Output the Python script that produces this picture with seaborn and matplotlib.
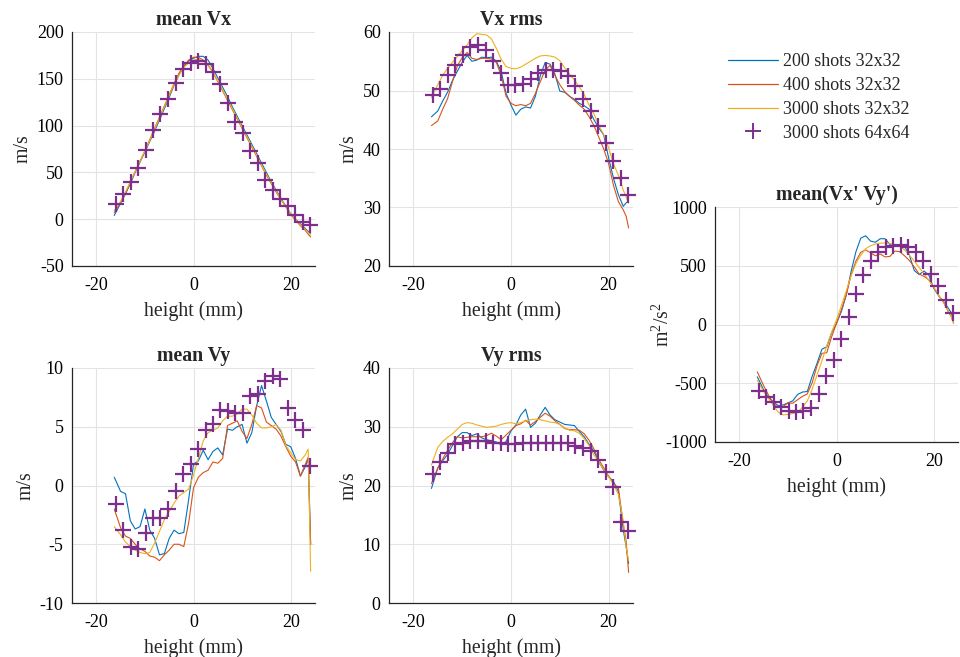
import numpy as np
import pandas as pd
import matplotlib
matplotlib.use("Agg")
import matplotlib.pyplot as plt
from matplotlib.lines import Line2D
import seaborn as sns

# ---------------- data ----------------
xl = [-16.3, -15, -14, -13, -12, -11, -10, -9, -8, -7, -6, -5, -4, -3, -2, -1, 0,
      1, 2, 3, 4, 5, 6, 7, 8, 9, 10, 11, 12, 13, 14, 15, 16, 17, 18, 19, 20, 21,
      22, 23, 23.6, 24.1]
xm = [-16.0, -14.5, -12.9, -11.4, -9.8, -8.3, -6.8, -5.2, -3.7, -2.1, -0.6, 0.9,
      2.5, 4.0, 5.5, 7.1, 8.6, 10.2, 11.7, 13.2, 14.8, 16.3, 17.8, 19.4, 20.9,
      22.5, 24.0]

labels = ["200 shots 32x32", "400 shots 32x32", "3000 shots 32x32", "3000 shots 64x64"]

# mean Vx
vx_200 = [4, 17, 27, 38, 50, 61, 72, 83, 94, 106, 118, 130, 143, 154, 163, 169, 172,
          174, 174, 170, 161, 151, 141, 131, 120, 110, 100, 90, 80, 70, 60, 50, 40,
          31, 22, 14, 6, 0, -5, -10, -13, -15]
vx_400 = [7, 18, 28, 39, 51, 62, 73, 85, 97, 109, 121, 133, 145, 156, 164, 170, 173,
          173, 170, 165, 157, 147, 137, 127, 117, 107, 97, 87, 77, 67, 57, 47, 38,
          29, 21, 13, 5, -1, -7, -12, -16, -19]
vx_3000 = [9, 19, 29, 40, 51, 62, 73, 84, 96, 108, 120, 132, 144, 154, 162, 167, 170,
           171, 169, 164, 157, 148, 138, 128, 118, 108, 98, 88, 78, 68, 58, 48, 39,
           30, 21, 13, 6, 0, -6, -11, -14, -17]
vx_64 = [16, 27, 40, 55, 74, 95, 112, 128, 145, 161, 167, 169, 166, 157, 144, 124,
         104, 92, 73, 60, 42, 31, 22, 14, 5, -3, -6]

# Vx rms
vxr_200 = [45.5, 46.5, 48.2, 49.7, 51.7, 53.3, 54.8, 56.0, 55.0, 55.2, 55.7, 55.6,
           55.7, 55.0, 53.2, 49.5, 47.5, 45.8, 46.8, 47.2, 47.0, 49.0, 52.5, 54.8,
           54.5, 52.8, 49.9, 49.7, 49.0, 48.5, 47.8, 47.4, 46.8, 45.0, 43.6, 42.4,
           38.5, 35.0, 32.2, 30.2, 30.8, 31.0]
vxr_400 = [44.0, 44.8, 46.8, 48.6, 51.5, 54.2, 55.6, 56.5, 55.5, 55.3, 55.5, 55.5,
           55.4, 54.8, 52.5, 49.0, 47.8, 47.4, 47.6, 47.4, 47.8, 49.5, 51.5, 53.5,
           54.3, 52.6, 51.0, 49.8, 49.0, 48.3, 47.5, 46.8, 45.5, 44.0, 42.0, 40.0,
           37.5, 33.8, 31.0, 29.6, 28.5, 26.5]
vxr_3000 = [48.8, 51.0, 52.6, 53.8, 54.8, 55.8, 56.8, 57.8, 59.0, 59.7, 59.6, 59.5,
            58.8, 57.2, 55.3, 54.1, 53.8, 53.7, 54.0, 54.5, 55.0, 55.5, 55.9, 56.0,
            55.9, 55.7, 55.1, 53.9, 52.8, 51.8, 50.6, 49.3, 47.5, 46.0, 44.0, 42.5,
            40.2, 37.5, 35.5, 33.0, 31.8, 30.7]
vxr_64 = [49.2, 50.2, 52.7, 54.4, 56.0, 57.4, 57.8, 57.0, 55.0, 53.0, 51.0, 51.0,
          51.1, 52.0, 53.0, 53.5, 53.5, 53.4, 52.5, 50.8, 48.5, 46.5, 44.0, 41.0,
          38.0, 35.0, 32.2]

# mean Vy
vy_200 = [0.7, -0.5, -0.7, -3.0, -3.7, -3.5, -2.0, -3.8, -4.5, -5.9, -5.8, -4.5,
          -3.8, -4.1, -4.0, -1.2, 1.8, 2.1, 3.0, 2.2, 2.9, 3.2, 2.6, 4.8, 4.7, 5.0,
          5.2, 3.6, 4.5, 6.8, 8.5, 7.2, 5.8, 5.2, 4.6, 3.5, 3.3, 2.3, 0.8, 1.6, 2.3,
          -5.0]
vy_400 = [-2.0, -3.6, -4.3, -4.5, -5.0, -5.4, -5.6, -6.0, -6.1, -6.4, -5.9, -5.5,
          -5.0, -5.0, -5.2, -3.2, -0.2, 0.7, 1.1, 1.3, 2.0, 1.9, 2.3, 5.1, 5.3, 5.5,
          4.6, 4.0, 5.2, 6.8, 6.6, 5.4, 5.1, 4.8, 4.2, 3.3, 2.5, 2.0, 0.8, 1.8, 2.4,
          -5.0]
vy_3000 = [-3.5, -4.2, -4.8, -5.2, -5.5, -5.7, -5.8, -5.7, -4.9, -3.9, -2.9, -2.2,
           -1.5, -0.9, -0.6, -0.3, 0.9, 2.3, 3.8, 4.5, 4.7, 4.9, 5.5, 5.9, 5.9, 6.1,
           6.5, 6.5, 6.0, 5.3, 4.9, 4.9, 5.0, 5.2, 4.7, 3.4, 2.8, 2.2, 2.1, 2.6, 3.1,
           -7.3]
vy_64 = [-1.6, -3.8, -5.2, -5.4, -4.0, -2.8, -2.8, -2.0, -0.5, 1.0, 1.8, 3.1, 4.7,
         5.2, 6.4, 6.3, 6.2, 6.2, 7.6, 7.8, 8.9, 9.3, 9.1, 6.6, 5.6, 4.7, 1.7]

# Vy rms
vyr_200 = [19.5, 23.0, 24.2, 25.3, 26.8, 28.3, 29.0, 29.0, 28.5, 28.8, 28.1, 27.8,
           27.6, 27.4, 26.9, 27.5, 29.3, 30.3, 32.0, 33.0, 29.9, 30.6, 32.0, 33.3,
           32.0, 31.2, 30.8, 30.4, 30.3, 30.2, 29.2, 28.3, 27.0, 25.8, 24.0, 22.6,
           21.5, 20.7, 19.0, 12.5, 9.5, 6.7]
vyr_400 = [20.3, 23.0, 24.5, 26.0, 27.3, 28.3, 28.1, 28.2, 28.3, 28.3, 28.3, 28.5,
           28.9, 28.4, 27.8, 28.6, 29.4, 30.2, 30.5, 31.1, 30.3, 30.9, 31.6, 32.3,
           31.8, 31.0, 30.4, 29.7, 29.5, 29.5, 29.4, 28.8, 27.7, 26.2, 24.4, 23.0,
           21.6, 20.3, 19.6, 13.5, 10.5, 5.2]
vyr_3000 = [23.5, 26.5, 27.5, 28.2, 28.8, 29.6, 30.4, 30.7, 30.6, 30.3, 30.1, 29.9,
            30.0, 30.1, 30.4, 30.6, 30.7, 30.5, 30.7, 31.0, 31.2, 31.3, 31.2, 31.0,
            30.8, 30.7, 30.4, 29.8, 29.4, 29.3, 28.9, 28.0, 26.8, 25.2, 24.0, 22.7,
            21.5, 20.2, 18.5, 14.0, 9.5, 7.2]
vyr_64 = [22.0, 24.0, 25.6, 27.0, 27.2, 27.5, 27.5, 27.5, 27.3, 27.2, 27.0, 27.1,
          27.3, 27.3, 27.3, 27.3, 27.3, 27.3, 27.2, 26.8, 26.4, 25.8, 24.4, 22.3,
          19.7, 13.8, 12.2]

# mean(Vx'Vy')
uv_200 = [-445, -555, -620, -659, -690, -685, -667, -650, -595, -575, -570, -440,
          -330, -210, -190, -70, 10, 110, 250, 450, 620, 735, 755, 710, 700, 730,
          730, 680, 665, 679, 665, 590, 460, 425, 455, 420, 310, 245, 195, 140, 100, 30]
uv_400 = [-403, -520, -600, -673, -705, -700, -667, -670, -640, -612, -590, -495,
          -350, -246, -240, -104, 10, 124, 250, 420, 540, 615, 635, 610, 585, 600,
          575, 580, 625, 620, 585, 545, 490, 430, 410, 380, 315, 250, 190, 110, 67, 10]
uv_3000 = [-474, -570, -630, -690, -745, -770, -765, -758, -745, -705, -650, -550,
           -430, -310, -180, -65, 40, 160, 285, 415, 520, 590, 645, 670, 685, 693,
           693, 690, 680, 665, 635, 590, 540, 485, 435, 375, 320, 250, 190, 120, 70, 10]
uv_64 = [-570, -620, -660, -700, -735, -745, -740, -710, -590, -435, -300, -120, 65,
         260, 420, 540, 620, 660, 670, 680, 660, 620, 540, 430, 330, 210, 95]

# ---------------- style ----------------
sns.set_style("white")
plt.rcParams["font.family"] = ["Liberation Serif", "DejaVu Serif"]
plt.rcParams["mathtext.fontset"] = "custom"
plt.rcParams["mathtext.rm"] = "Liberation Serif"
plt.rcParams["mathtext.it"] = "Liberation Serif:italic"
plt.rcParams["mathtext.default"] = "regular"
plt.rcParams["axes.unicode_minus"] = False

C_BLUE = "#0072BD"
C_ORANGE = "#D95319"
C_YELLOW = "#EDB120"
C_PURPLE = "#7E2F8E"
AX_COL = "#262626"
FS_TICK = 13
FS_LAB = 14.3

W, H = 960, 657
fig = plt.figure(figsize=(W / 100, H / 100), dpi=100)


def px_axes(left, right, top, bottom):
    return fig.add_axes([left / W, (H - bottom) / H, (right - left) / W, (bottom - top) / H])


panels = [
    dict(box=(72, 315, 32, 266), title="mean Vx", ylabel="m/s", ylim=(-50, 200),
         yticks=[-50, 0, 50, 100, 150, 200], ys=(vx_200, vx_400, vx_3000), ym=vx_64,
         ylx=None),
    dict(box=(389, 633, 32, 266), title="Vx rms", ylabel="m/s", ylim=(20, 60),
         yticks=[20, 30, 40, 50, 60], ys=(vxr_200, vxr_400, vxr_3000), ym=vxr_64,
         ylx=None),
    dict(box=(72, 315, 368, 603), title="mean Vy", ylabel="m/s", ylim=(-10, 10),
         yticks=[-10, -5, 0, 5, 10], ys=(vy_200, vy_400, vy_3000), ym=vy_64,
         ylx=None),
    dict(box=(389, 633, 368, 603), title="Vy rms", ylabel="m/s", ylim=(0, 40),
         yticks=[0, 10, 20, 30, 40], ys=(vyr_200, vyr_400, vyr_3000), ym=vyr_64,
         ylx=None),
    dict(box=(715, 958, 207, 442), title="mean(Vx' Vy')", ylabel=r"m$^{2}$/s$^{2}$",
         ylim=(-1000, 1000), yticks=[-1000, -500, 0, 500, 1000],
         ys=(uv_200, uv_400, uv_3000), ym=uv_64, ylx=-0.17),
]

for p in panels:
    ax = px_axes(*p["box"])
    for vals, col in zip(p["ys"], (C_BLUE, C_ORANGE, C_YELLOW)):
        sns.lineplot(x=xl, y=vals, ax=ax, color=col, lw=0.8, zorder=2)
    sns.scatterplot(x=xm, y=p["ym"], ax=ax, marker="+", s=125, color=C_PURPLE,
                    linewidth=1.6, zorder=3, clip_on=False)
    ax.set_xlim(-25, 25)
    ax.set_xticks([-20, 0, 20])
    ax.set_ylim(*p["ylim"])
    ax.set_yticks(p["yticks"])
    ax.grid(True, color="#e3e3e3", lw=0.8)
    ax.set_axisbelow(True)
    for s in ("top", "right"):
        ax.spines[s].set_visible(False)
    for s in ("left", "bottom"):
        ax.spines[s].set_color(AX_COL)
        ax.spines[s].set_linewidth(0.9)
    ax.tick_params(axis="x", direction="in", length=3, width=0.7, color=AX_COL,
                   labelsize=FS_TICK, labelcolor="black", pad=8)
    ax.tick_params(axis="y", direction="in", length=3, width=0.7, color=AX_COL,
                   labelsize=FS_TICK, labelcolor="black", pad=6)
    ax.set_title(p["title"], fontsize=FS_LAB, fontweight="bold", pad=5)
    ax.set_xlabel("height (mm)", fontsize=FS_LAB, labelpad=5)
    ax.set_ylabel(p["ylabel"], fontsize=FS_LAB, labelpad=3)
    if p["ylx"] is not None:
        ax.yaxis.set_label_coords(p["ylx"], 0.5)

handles = [Line2D([], [], color=C_BLUE, lw=0.9),
           Line2D([], [], color=C_ORANGE, lw=0.9),
           Line2D([], [], color=C_YELLOW, lw=0.9),
           Line2D([], [], color=C_PURPLE, lw=0, marker="+", markersize=11,
                  markeredgewidth=1.4)]
fig.legend(handles, labels, loc="upper left", bbox_to_anchor=(721 / W, 1 - 46 / H),
           frameon=False, fontsize=FS_TICK, handlelength=2.75, handletextpad=0.3,
           labelspacing=0.38, borderaxespad=0)

fig.savefig("out.png", dpi=100)
